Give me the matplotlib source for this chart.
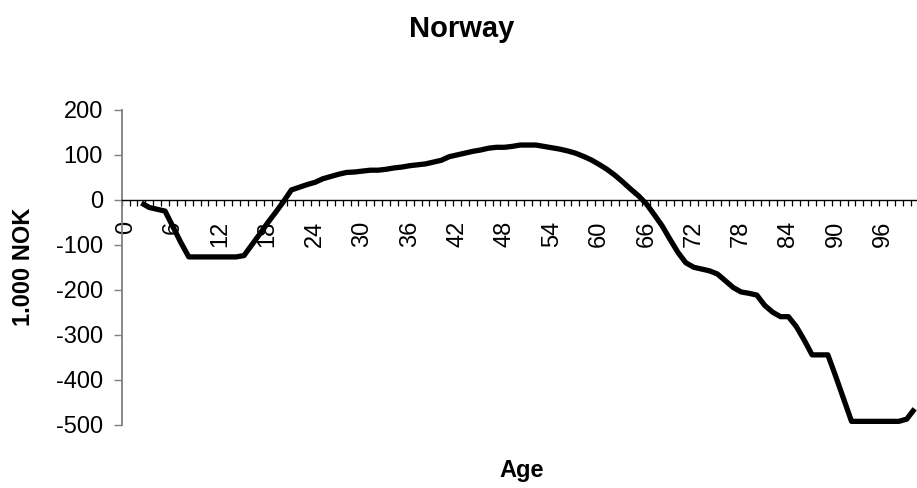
import matplotlib
matplotlib.use("Agg")
import matplotlib.pyplot as plt
from matplotlib.ticker import FixedLocator

plt.rcParams['font.family'] = ['Liberation Sans', 'DejaVu Sans']

# ages shown on the category axis and the net value (1.000 NOK) per age
ages = list(range(2, 101))
values = [
    -7, -17, -21, -25, -60, -95, -127, -127, -127, -127, -127, -127, -127,  # 2-14
    -124, -100, -76, -51, -28, -4, 22, 28, 34, 39,                          # 15-24
    47, 52, 57, 61, 62, 64, 66, 66, 68, 71,                                 # 25-34
    73, 76, 78, 80, 84, 88, 96, 100, 104, 108,                              # 35-44
    111, 115, 117, 117, 119, 122, 122, 122, 119, 116,                       # 45-54
    113, 109, 104, 97, 89, 79, 68, 55, 40, 24,                              # 55-64
    9, -9, -33, -58, -88, -117, -140, -150, -154, -158,                     # 65-74
    -165, -180, -195, -205, -208, -212, -235, -250, -260, -260,             # 75-84
    -282, -312, -345, -345, -345, -393, -443, -493, -493, -493,             # 85-94
    -493, -493, -493, -493, -488, -465,                                     # 95-100
]
n_categories = 101
label_step = 6
y_ticks = [200, 100, 0, -100, -200, -300, -400, -500]

fig = plt.figure(figsize=(9.17, 4.88), dpi=100)
left = 121.7 / 917
right = (121.7 + 7.89 * n_categories) / 917
bottom = 1 - 424.5 / 488
top = 1 - 110 / 488
ax = fig.add_axes([left, bottom, right - left, top - bottom])

ax.plot(ages, values, color='black', linewidth=3.8, solid_joinstyle='round',
        solid_capstyle='butt', clip_on=True)

ax.set_xlim(-0.5, n_categories - 0.5)
ax.set_ylim(-500, 200)

# axes look
for s in ['top', 'right']:
    ax.spines[s].set_visible(False)
ax.spines['left'].set_color('#808080')
ax.spines['left'].set_linewidth(1.3)
ax.spines['bottom'].set_position(('data', 0))
ax.spines['bottom'].set_color('black')
ax.spines['bottom'].set_linewidth(1.0)

ax.set_yticks(y_ticks)
ax.set_yticklabels([str(v) for v in y_ticks])
ax.tick_params(axis='y', direction='out', length=5.5, width=1.0, color='#808080',
               labelsize=17, pad=8)

ax.xaxis.set_major_locator(FixedLocator(list(range(0, n_categories, label_step))))
ax.set_xticklabels([str(v) for v in range(0, n_categories, label_step)])
ax.xaxis.set_minor_locator(FixedLocator([i - 0.5 for i in range(n_categories + 1)]))
ax.tick_params(axis='x', which='major', length=0, labelsize=17, labelrotation=90, pad=15)
ax.tick_params(axis='x', which='minor', direction='out', length=4.5, width=0.9,
               color='black')
for lbl in ax.get_xticklabels():
    lbl.set_va('top')
    lbl.set_ha('center')

fig.text(462 / 917, 1 - 37 / 488, 'Norway', ha='center', va='baseline',
         fontsize=21, fontweight='bold')
fig.text(522 / 917, 1 - 477 / 488, 'Age', ha='center', va='baseline',
         fontsize=17, fontweight='bold')
fig.text(24 / 917, 1 - 267 / 488, '1.000 NOK', ha='center', va='center',
         rotation=90, fontsize=17, fontweight='bold')

fig.savefig('out.png', dpi=100)
